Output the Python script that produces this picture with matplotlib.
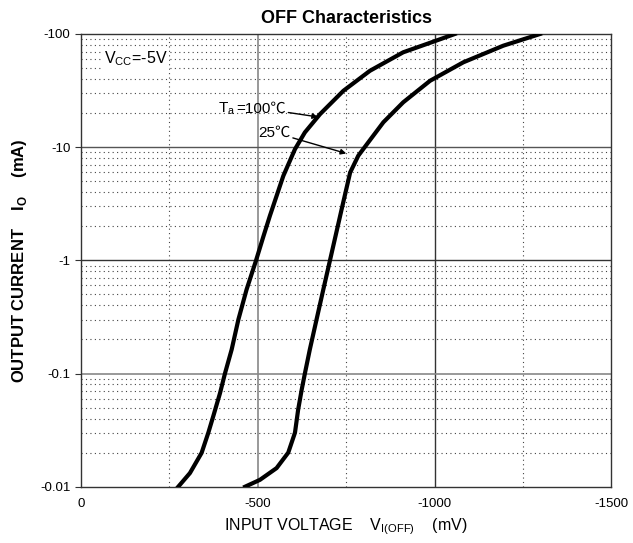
import matplotlib
matplotlib.use("Agg")
import matplotlib.pyplot as plt

plt.rcParams['font.family'] = ['Liberation Sans', 'Noto Sans CJK SC', 'DejaVu Sans']

# Kennlinien (Spannung in mV als Betrag, Strom in mA als Betrag)
v_100 = [275, 308, 341, 360, 374, 393, 407, 426, 445, 468, 495, 515, 534,
         572, 605, 633, 676, 742, 817, 911, 996, 1057]
i_100 = [0.01, 0.0132, 0.0199, 0.030, 0.042, 0.067, 0.1, 0.163, 0.30, 0.55, 1.0, 1.6, 2.47,
         5.57, 9.6, 13.5, 19.6, 31.5, 47.3, 68.9, 85.5, 100]

v_25 = [464, 506, 553, 586, 605, 614, 624, 633, 647, 666, 685, 704, 737,
        761, 784, 812, 855, 911, 987, 1081, 1194, 1298]
i_25 = [0.01, 0.0115, 0.0146, 0.020, 0.030, 0.048, 0.072, 0.1, 0.163, 0.30, 0.55, 1.0, 2.83,
        5.97, 8.4, 11.0, 16.6, 24.9, 38.6, 56.2, 78.8, 100]

x_ticks = [0, 500, 1000, 1500]
x_labels = ['0', '-500', '-1000', '-1500']
y_ticks = [0.01, 0.1, 1, 10, 100]
y_labels = ['-0.01', '-0.1', '-1', '-10', '-100']

fig = plt.figure(figsize=(6.33, 5.43), dpi=100)
ax = fig.add_axes([0.128, 0.1037, 0.838, 0.8337])

ax.set_yscale('log')
ax.set_xlim(0, 1500)
ax.set_ylim(0.01, 100)

# Gitter: gepunktete Nebenlinien
for d in [0.01, 0.1, 1, 10]:
    for k in range(2, 10):
        ax.axhline(d * k, color='#444444', lw=0.8, ls=(0, (1, 3)), zorder=1)
for xv in [250, 750, 1250]:
    ax.axvline(xv, color='#444444', lw=0.8, ls=(0, (1, 3)), zorder=1)
# Hauptlinien
ax.axvline(500, color='#888888', lw=1.2, zorder=1)
ax.axvline(1000, color='#333333', lw=1.0, zorder=1)
ax.axhline(10, color='#555555', lw=1.0, zorder=1)
ax.axhline(1, color='#333333', lw=1.0, zorder=1)
ax.axhline(0.1, color='#888888', lw=1.2, zorder=1)

ax.plot(v_100, i_100, color='black', lw=3, solid_joinstyle='round', zorder=3)
ax.plot(v_25, i_25, color='black', lw=3, solid_joinstyle='round', zorder=3)

ax.set_xticks(x_ticks)
ax.set_xticklabels(x_labels)
ax.set_yticks(y_ticks)
ax.set_yticklabels(y_labels)
ax.minorticks_off()
ax.tick_params(axis='both', labelsize=9.5, length=4, width=0.8, color='#333333')
ax.tick_params(axis='x', length=0, pad=8)

for s in ax.spines.values():
    s.set_color('#333333')
    s.set_linewidth(1.0)

ax.set_title('OFF Characteristics', fontsize=13, fontweight='bold', pad=8)
ax.set_xlabel(r'INPUT VOLTAGE    V$_{\mathregular{I(OFF)}}$    (mV)', fontsize=11.5, labelpad=5)
ax.set_ylabel(r'OUTPUT CURRENT    I$_\mathregular{O}$    (mA)', fontsize=12, fontweight='bold', labelpad=8)

ax.text(65, 55, r'V$_{\mathregular{CC}}$=-5V', fontsize=11.5,
        bbox=dict(facecolor='white', edgecolor='none', pad=1), zorder=2)

# Beschriftung der Temperaturen
ax.text(388, 22, r'T$_\mathregular{a}$', fontsize=11, va='center', ha='left', zorder=5)
ax.annotate('=100℃', xy=(670, 18.5), xytext=(438, 22),
            fontsize=11, va='center', ha='left',
            arrowprops=dict(arrowstyle='-|>', color='black', lw=1.0,
                            mutation_scale=8, shrinkA=0, shrinkB=0), zorder=4)
ax.annotate('25℃', xy=(750, 8.8), xytext=(500, 13.5),
            fontsize=11, va='center',
            arrowprops=dict(arrowstyle='-|>', color='black', lw=1.0,
                            mutation_scale=8, shrinkA=0, shrinkB=0), zorder=4)

fig.savefig('out.png', dpi=100)
